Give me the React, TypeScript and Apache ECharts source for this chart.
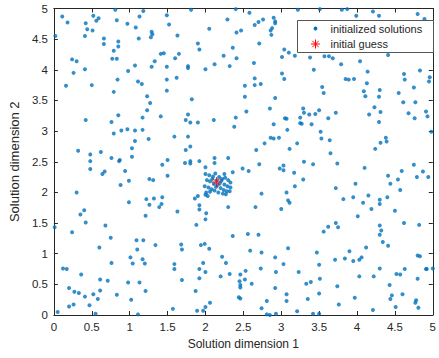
import React, { useEffect, useRef } from "react";
import * as echarts from "echarts";

const FONT = '"Liberation Sans", Arial, Helvetica, sans-serif';
const BLUE = "#0072BD";
const RED = "#FF0000";
const INK = "#262626";

const xName = "Solution dimension 1";
const yName = "Solution dimension 2";
const seriesNames = ["initialized solutions", "initial guess"];

// initialized solutions, upper band (y ~ 3.4 .. 5)
const solutionsTop: number[][] = [
  [0.11,4.87],[0.18,4.77],[0.42,4.76],[0.52,4.88],[0.59,4.84],[0.56,4.80],[0.81,4.98],[0.83,4.81],[1.13,4.87],[1.18,4.96],
  [0.44,4.66],[0.51,4.64],[0.97,4.75],[1.08,4.69],[0.02,4.55],[0.41,4.55],[0.66,4.51],[0.66,4.42],[0.85,4.46],[0.85,4.38],
  [1.12,4.51],[0.79,4.31],[0.77,4.18],[0.83,4.18],[0.24,4.17],[0.30,4.14],[0.26,3.95],[0.41,4.01],[1.07,4.07],[0.98,3.98],
  [0.16,3.74],[0.50,3.75],[0.84,3.84],[1.11,3.81],[1.16,3.77],[0.79,3.64],[1.23,3.57],
  [1.81,4.98],[2.40,4.99],[1.49,4.89],[1.52,4.74],[2.29,4.82],[2.05,4.67],[2.41,4.61],[2.47,4.64],[1.29,4.62],[1.30,4.58],
  [1.28,4.53],[1.63,4.56],[1.90,4.43],[1.92,4.33],[2.36,4.36],[1.41,4.26],[1.45,4.27],[1.65,4.26],[1.60,4.19],[2.24,4.23],
  [2.41,4.19],[1.33,4.14],[1.29,4.05],[1.49,4.05],[1.77,4.06],[1.77,4.03],[2.12,4.09],[2.00,4.01],[2.32,4.06],[1.49,3.84],
  [1.62,3.87],[1.49,3.66],[1.27,3.46],[1.82,3.52],
  [2.58,4.93],[2.76,4.82],[2.70,4.78],[2.65,4.73],[2.90,4.85],[2.92,4.79],[2.92,4.76],[2.88,4.68],[2.86,4.64],[2.87,4.57],
  [3.22,4.98],[3.51,4.99],[2.71,4.43],[3.04,4.33],[3.10,4.28],[3.01,4.21],[3.18,4.23],[3.38,4.20],[3.43,4.00],[3.57,4.22],
  [3.63,4.22],[3.68,4.19],[2.64,4.11],[3.01,3.94],[3.04,3.85],[2.65,3.86],[2.65,3.75],[2.73,3.77],[2.52,3.74],[2.52,3.56],
  [3.54,3.72],[3.56,3.62],[2.92,3.54],
  [3.80,4.98],[3.87,4.99],[3.99,4.88],[4.21,4.95],[4.29,4.88],[4.80,4.91],[4.89,4.83],[4.92,4.53],[4.41,4.24],[3.79,4.09],
  [4.04,4.14],[4.14,3.97],[3.85,3.85],[3.89,3.84],[3.96,3.85],[4.13,3.78],[4.62,3.93],[4.63,3.84],[4.83,3.99],[4.96,3.88],
  [4.95,3.81],[4.09,3.65],[4.30,3.67],[4.55,3.62],[4.75,3.71],[4.11,3.57],[4.29,3.56],[4.61,3.47],[4.77,3.47],[4.23,3.39],
];

// initialized solutions, middle band (y ~ 1.7 .. 3.4)
const solutionsMiddle: number[][] = [
  [1.23,3.34],[0.85,3.26],[0.42,3.18],[1.17,3.22],[0.76,3.15],[0.79,2.96],[0.89,3.01],[0.97,3.03],[1.07,3.01],[1.17,3.02],
  [1.07,2.84],[0.32,2.68],[0.62,2.66],[0.48,2.62],[0.48,2.51],[0.76,2.56],[0.87,2.53],[0.86,2.51],[1.03,2.72],[1.03,2.58],
  [0.48,2.38],[0.67,2.34],[0.64,2.30],[0.94,2.35],[0.99,2.19],[0.88,2.12],[0.30,2.00],[0.99,1.84],[1.22,1.89],[0.40,1.71],
  [1.41,3.24],[1.77,3.27],[1.74,3.18],[1.80,3.14],[1.90,3.14],[2.11,3.18],[2.40,3.22],[2.38,3.07],[1.25,2.87],[1.59,2.91],
  [1.77,2.91],[1.74,2.69],[1.80,2.75],[1.50,2.53],[1.43,2.45],[1.73,2.48],[1.80,2.51],[1.80,2.47],[1.92,2.51],[2.12,2.56],
  [2.12,2.48],[2.30,2.56],[2.00,2.41],[2.25,2.30],[2.36,2.33],[2.49,2.39],[1.26,2.22],[1.31,2.20],[1.50,2.27],[1.43,1.92],
  [1.32,1.90],[1.26,1.80],[1.39,1.76],[1.42,1.81],[1.63,1.69],[1.86,1.90],[1.92,1.79],[1.90,1.94],[1.92,1.72],[2.30,1.76],
  [2.03,1.94],
  [2.54,3.32],[2.85,3.37],[3.29,3.37],[3.30,3.30],[3.25,3.22],[3.37,3.27],[3.45,3.28],[3.50,3.34],[3.72,3.30],[3.62,3.21],
  [3.05,3.21],[3.07,3.20],[3.25,3.13],[3.27,3.12],[3.40,3.11],[2.90,3.11],[3.08,3.02],[3.52,2.99],[3.53,2.88],[3.64,2.85],
  [2.86,2.89],[2.90,2.88],[2.97,2.89],[2.78,2.80],[3.21,2.80],[2.67,2.69],[3.11,2.71],[3.65,2.64],[3.30,2.50],[3.42,2.46],
  [3.74,2.47],[2.57,2.35],[2.71,2.46],[3.03,2.44],[2.98,2.39],[3.03,2.36],[3.17,2.32],[3.29,2.21],[3.18,2.10],[3.72,2.07],
  [2.74,1.98],[3.07,2.00],[3.09,1.87],[3.11,1.83],[2.66,1.76],[3.00,1.73],
  [4.16,3.27],[4.31,3.31],[4.29,3.15],[4.68,3.29],[4.76,3.21],[4.91,3.32],[4.93,3.24],[4.98,2.99],[4.38,2.89],[4.39,2.83],
  [4.31,2.81],[4.24,2.71],[4.10,2.40],[4.75,2.45],[4.87,2.34],[4.59,2.35],[4.79,2.25],[4.94,2.25],[4.41,2.27],[4.54,2.21],
  [4.44,2.14],[4.57,2.04],[3.98,2.14],[4.15,1.95],[3.95,1.92],[3.82,1.89],[4.40,1.92],[4.30,1.88],[4.30,1.81],[4.08,1.83],
  [4.19,1.73],[4.50,1.70],
];

// initialized solutions, dense cluster around the initial guess
const solutionsCluster: number[][] = [
  [2.00,2.30],[2.05,2.28],[2.10,2.26],[2.13,2.31],[2.18,2.25],[2.22,2.22],[2.26,2.24],[2.30,2.20],[2.33,2.16],
  [2.02,2.20],[2.06,2.18],[2.11,2.14],[2.15,2.20],[2.19,2.15],[2.25,2.13],[2.29,2.10],[2.33,2.08],
  [1.99,2.10],[2.04,2.08],[2.08,2.05],[2.14,2.09],[2.20,2.07],[2.24,2.04],[2.28,2.02],[2.32,2.02],
  [2.01,2.00],[2.06,2.01],[2.12,2.03],[2.17,2.00],[2.23,1.98],[2.00,1.96],[2.27,1.97],[2.09,2.22],[2.16,2.12],[2.21,2.19],
];

// initialized solutions, lower band (y ~ 0 .. 1.7)
const solutionsBottom: number[][] = [
  [0.35,1.64],[1.21,1.62],[0.42,1.51],[0.01,1.43],[0.24,1.35],[0.68,1.46],[0.75,1.26],[0.60,1.10],[1.09,1.22],[1.18,1.22],
  [1.10,1.07],[1.01,0.94],[1.04,0.84],[0.76,0.85],[1.20,0.84],[1.17,0.91],[0.12,0.76],[0.17,0.75],[0.36,0.66],[0.61,0.58],
  [0.71,0.56],[0.98,0.53],[1.13,0.53],[1.21,0.39],[0.20,0.44],[0.27,0.38],[0.33,0.36],[0.41,0.30],[0.52,0.34],[0.61,0.40],
  [0.58,0.26],[0.83,0.33],[1.02,0.25],[0.47,0.16],[0.26,0.17],[0.20,0.14],[0.05,0.05],[0.55,0.02],[1.11,0.01],
  [2.01,1.66],[2.00,1.56],[1.88,1.47],[2.36,1.29],[1.34,1.14],[1.68,1.15],[1.69,1.07],[1.94,1.14],[1.99,1.16],[2.05,1.08],
  [2.22,0.95],[2.27,0.85],[1.59,0.83],[1.59,0.75],[1.97,0.85],[1.92,0.75],[2.00,0.70],[1.92,0.60],[2.20,0.63],[2.32,0.67],
  [2.46,0.66],[1.69,0.57],[2.45,0.55],[2.46,0.49],[2.46,0.45],[1.87,0.39],[2.44,0.29],[2.46,0.27],[2.06,0.20],[2.00,0.13],
  [1.97,0.07],[1.89,0.07],[1.57,0.10],
  [2.56,1.32],[2.70,1.31],[2.59,1.05],[2.74,1.02],[3.09,1.09],[2.92,0.94],[3.03,0.83],[2.73,0.76],[2.53,0.72],[2.52,0.58],
  [2.61,0.51],[2.93,0.70],[3.23,0.70],[2.92,0.44],[3.07,0.34],[3.07,0.23],[2.81,0.23],[2.74,0.11],[2.81,0.01],[2.85,0.00],
  [2.93,0.02],[3.21,0.06],[3.35,0.26],[3.33,0.51],[3.39,0.54],[3.51,0.59],[3.50,0.35],[3.47,1.02],[3.50,0.82],[3.56,1.36],
  [3.62,1.44],[3.72,1.50],[3.75,1.43],[3.71,0.90],[3.74,0.47],[3.76,0.17],[3.42,0.02],[3.50,0.02],
  [4.01,1.61],[4.30,1.46],[4.32,1.38],[4.30,1.31],[4.34,1.19],[4.41,1.13],[4.62,1.50],[4.82,1.47],[4.12,1.10],[3.90,1.04],
  [3.84,0.92],[3.95,0.88],[4.03,0.90],[4.06,0.94],[4.80,0.97],[4.83,0.96],[4.30,0.76],[4.63,0.75],[4.52,0.67],[4.57,0.66],
  [4.91,0.75],[4.92,0.75],[5.00,0.76],[4.03,0.63],[4.22,0.63],[4.80,0.59],[4.43,0.49],[4.60,0.34],[4.46,0.32],[4.44,0.26],
  [3.97,0.28],[4.78,0.24],[4.77,0.20],[4.81,0.12],[4.51,0.13],[4.21,0.08],
];

const initialGuess: number[][] = [[2.145, 2.17]];

const STAR = "path://M0,5L10,5M5,0L5,10M1.5,1.5L8.5,8.5M8.5,1.5L1.5,8.5";

function axisCommon(position: string, showLabel: boolean) {
  return {
    type: "value",
    min: 0,
    max: 5,
    interval: 0.5,
    position,
    axisLine: { show: true, onZero: false, lineStyle: { color: INK, width: 1 } },
    axisTick: { show: true, inside: true, length: 4, lineStyle: { color: INK, width: 1 } },
    axisLabel: { show: showLabel, color: INK, fontSize: 11.5, fontFamily: FONT, margin: 6 },
    splitLine: { show: false },
  };
}

export default function App() {
  const ref = useRef<HTMLDivElement>(null);
  useEffect(() => {
    if (!ref.current) return;
    const chart = echarts.init(ref.current, undefined, { renderer: "svg" });
    const allSolutions = [...solutionsTop, ...solutionsMiddle, ...solutionsCluster, ...solutionsBottom];
    const lx = 297.5;
    const ly = 20.5;
    const sx = lx + 18;
    const sy = ly + 23.5;
    chart.setOption({
      animation: false,
      backgroundColor: "#fff",
      textStyle: { fontFamily: FONT },
      grid: { left: 47, right: 2, top: 8.5, bottom: 43, containLabel: false },
      xAxis: [
        {
          ...axisCommon("bottom", true),
          name: xName,
          nameLocation: "middle",
          nameGap: 23,
          nameTextStyle: { color: INK, fontSize: 12, fontFamily: FONT },
        },
        { ...axisCommon("top", false) },
      ],
      yAxis: [
        {
          ...axisCommon("left", true),
          name: yName,
          nameLocation: "middle",
          nameGap: 28,
          nameTextStyle: { color: INK, fontSize: 13, fontFamily: FONT },
        },
        { ...axisCommon("right", false) },
      ],
      series: [
        {
          type: "scatter",
          name: seriesNames[0],
          data: allSolutions,
          symbol: "circle",
          symbolSize: 4,
          itemStyle: { color: BLUE },
          z: 2,
        },
        {
          type: "scatter",
          name: seriesNames[1],
          data: initialGuess,
          symbol: STAR,
          symbolSize: 10,
          itemStyle: { color: RED, borderColor: RED, borderWidth: 1 },
          z: 3,
        },
      ],
      graphic: [
        {
          type: "rect",
          z: 100,
          shape: { x: lx, y: ly, width: 136, height: 32 },
          style: { fill: "#fff", stroke: "#555", lineWidth: 1 },
        },
        {
          type: "circle",
          z: 101,
          shape: { cx: sx, cy: ly + 8, r: 1.9 },
          style: { fill: BLUE },
        },
        {
          type: "text",
          z: 101,
          x: lx + 33,
          y: ly + 8,
          style: { text: seriesNames[0], fill: INK, fontSize: 11, fontFamily: FONT, verticalAlign: "middle" },
        },
        { type: "line", z: 101, shape: { x1: sx - 4.5, y1: sy, x2: sx + 4.5, y2: sy }, style: { stroke: RED, lineWidth: 1 } },
        { type: "line", z: 101, shape: { x1: sx, y1: sy - 4.5, x2: sx, y2: sy + 4.5 }, style: { stroke: RED, lineWidth: 1 } },
        { type: "line", z: 101, shape: { x1: sx - 3.2, y1: sy - 3.2, x2: sx + 3.2, y2: sy + 3.2 }, style: { stroke: RED, lineWidth: 1 } },
        { type: "line", z: 101, shape: { x1: sx + 3.2, y1: sy - 3.2, x2: sx - 3.2, y2: sy + 3.2 }, style: { stroke: RED, lineWidth: 1 } },
        {
          type: "text",
          z: 101,
          x: lx + 33,
          y: sy,
          style: { text: seriesNames[1], fill: INK, fontSize: 11, fontFamily: FONT, verticalAlign: "middle" },
        },
      ],
    });
    return () => chart.dispose();
  }, []);
  return <div ref={ref} style={{ position: "fixed", left: 0, top: 0, width: 439, height: 358 }} />;
}
